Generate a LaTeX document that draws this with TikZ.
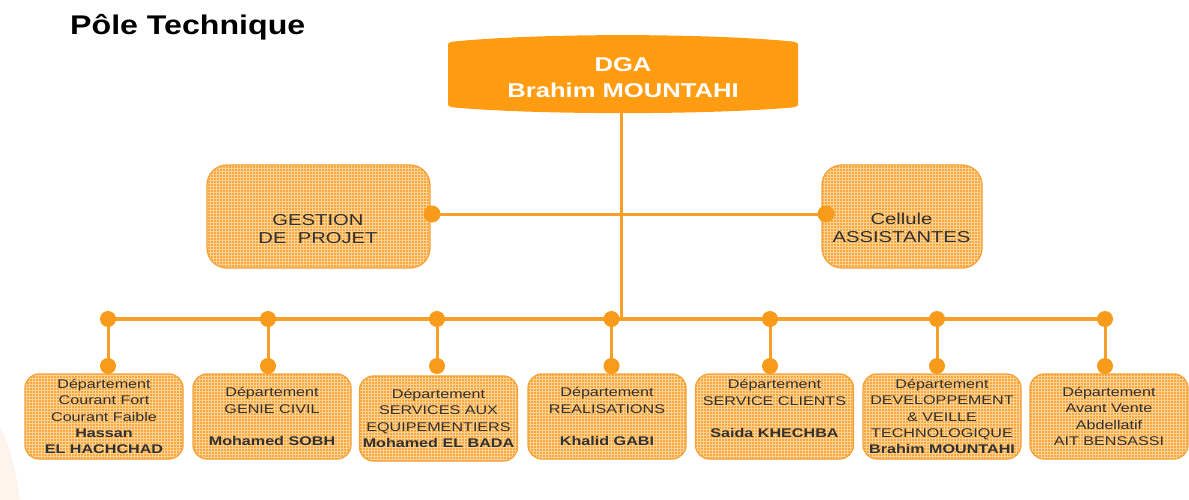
\documentclass[tikz,border=0pt]{standalone}
\usepackage{fontspec}
\setmainfont{Liberation Sans}[FakeStretch=1.28]
\newfontfamily\titlefont{Liberation Sans}[FakeStretch=1.19]
\definecolor{dgafill}{HTML}{FF9C12}
\definecolor{linec}{HTML}{F6A02A}
\definecolor{dotc}{HTML}{F99B1A}
\definecolor{boxfill}{HTML}{F8A83C}
\definecolor{gridc}{HTML}{FCD296}
\definecolor{boxedge}{HTML}{F4A23A}
\definecolor{txt}{HTML}{303030}
\definecolor{swoosh}{HTML}{FEF4EB}
\tikzset{
  gridbox/.style={draw=boxedge, line width=1.3pt, fill=boxfill,
    path picture={\draw[gridc, line width=0.85pt]
      (path picture bounding box.south west) grid[step=3pt]
      (path picture bounding box.north east);}},
  deptbox/.style={gridbox, rounded corners=14pt, minimum width=158pt,
    minimum height=85pt, align=center, inner sep=0pt, text=txt,
    font=\fontsize{12.6}{16.2}\selectfont},
  midbox/.style={gridbox, rounded corners=20pt, minimum height=103pt, inner sep=0pt},
  midtext/.style={align=center, text=txt, inner sep=0pt,
    font=\fontsize{15.8}{17.5}\selectfont},
  bus/.style={linec, line width=3.5pt},
  link/.style={linec, line width=3pt},
}
\begin{document}
\begin{tikzpicture}[x=1pt,y=-1pt]
\useasboundingbox (0,0) rectangle (1189,500);

% soft corner swoosh
\fill[swoosh] (0,428) .. controls (11,445) and (16,472) .. (20,500) -- (0,500) -- cycle;

% title
\node[anchor=base west, inner sep=0pt,
  font=\titlefont\fontsize{27}{30}\selectfont\bfseries] (title) at (70,35) {Pôle Technique};

% junction points
\coordinate (dgabot) at (621,108);
\coordinate (hub) at (621,319);
\coordinate (gpdot) at (432,214);
\coordinate (cadot) at (826,214);
\coordinate (t1) at (108,319);
\coordinate (t2) at (268,319);
\coordinate (t3) at (437,319);
\coordinate (t4) at (611.5,319);
\coordinate (t5) at (770,319);
\coordinate (t6) at (937,319);
\coordinate (t7) at (1105,319);
\coordinate (b1) at (108,366);
\coordinate (b2) at (268,366);
\coordinate (b3) at (437,366);
\coordinate (b4) at (611.5,366);
\coordinate (b5) at (770,366);
\coordinate (b6) at (937,366);
\coordinate (b7) at (1105,366);

% connectors
\draw[link] (dgabot) -- (hub);
\draw[link] (gpdot) -- (cadot);
\draw[bus] (t1) -- (t7);
\foreach \i in {1,...,7} {\draw[link] (t\i) -- (b\i);}

% DGA block: straight sides, gently bowed top and bottom
\path[fill=dgafill] (448,46)
  .. controls (447,43) and (450,42) .. (454,41.5)
  .. controls (540,33) and (706,33) .. (792,41.5)
  .. controls (796,42) and (799,43) .. (798,46)
  -- (798,103)
  .. controls (799,106) and (796,107) .. (792,107.5)
  .. controls (706,115) and (540,115) .. (454,107.5)
  .. controls (450,107) and (447,106) .. (448,103) -- cycle;
\node[align=center, text=white, font=\fontsize{20}{26}\selectfont\bfseries] (dga)
  at (623,78) {DGA\\Brahim MOUNTAHI};

% staff units
\node[midbox, minimum width=223pt] (gp) at (318.5,216.5) {};
\node[midtext] (gpt) at (318,229) {GESTION\\DE~~PROJET};
\node[midbox, minimum width=160pt] (ca) at (902,216.5) {};
\node[midtext] (cat) at (901.5,228) {Cellule\\ASSISTANTES};

% departments
\node[deptbox] (d1) at (104,416.5)
  {Département\\Courant Fort\\Courant Faible\\\textbf{Hassan}\\\textbf{EL HACHCHAD}};
\node[deptbox] (d2) at (272,416.5)
  {Département\\GENIE CIVIL\\[16pt]\textbf{Mohamed SOBH}};
\node[deptbox] (d3) at (438.5,418.5)
  {Département\\SERVICES AUX\\EQUIPEMENTIERS\\\textbf{Mohamed EL BADA}};
\node[deptbox] (d4) at (607,416.5)
  {Département\\REALISATIONS\\[16pt]\textbf{Khalid GABI}};
\node[deptbox] (d5) at (774.5,416.5)
  {Département\\SERVICE CLIENTS\\[16pt]\textbf{Saida KHECHBA}\\\mbox{}};
\node[deptbox] (d6) at (942,416.5)
  {Département\\DEVELOPPEMENT\\\&~VEILLE\\TECHNOLOGIQUE\\\textbf{Brahim MOUNTAHI}};
\node[deptbox] (d7) at (1109,416.5)
  {Département\\Avant Vente\\Abdellatif\\AIT BENSASSI};

% junction dots
\fill[dotc] (gpdot) circle (8.5);
\fill[dotc] (cadot) circle (8.5);
\foreach \i in {1,...,7} {
  \fill[dotc] (t\i) circle (8);
  \fill[dotc] (b\i) circle (8);
}
\end{tikzpicture}
\end{document}
